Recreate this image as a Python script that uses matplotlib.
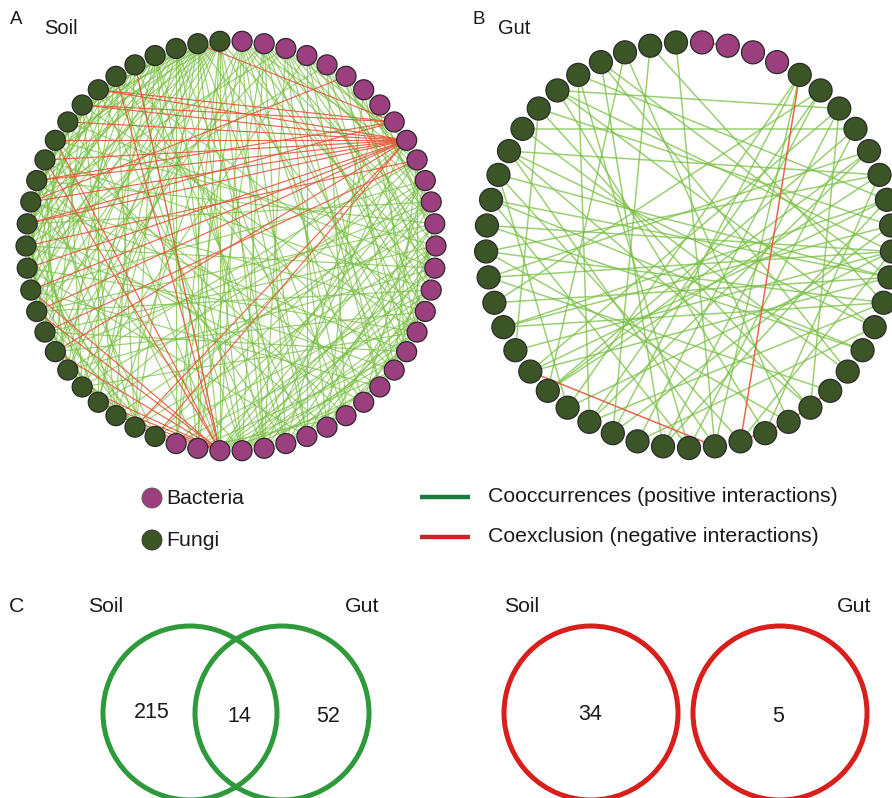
import numpy as np
import matplotlib
matplotlib.use("Agg")
import matplotlib.pyplot as plt
from matplotlib.patches import Circle
from matplotlib.collections import LineCollection

plt.rcParams['font.family'] = ['Liberation Sans', 'DejaVu Sans']

# ---------------- network data ----------------
# Soil network: nodes 0..31 bacteria, 32..57 fungi (clockwise from the top)
soil_n_bacteria = 32
soil_n_fungi = 26
# positive (co-occurrence) edges, fungi - fungi
soil_pos_ff = {
    57: [52, 50, 48, 46, 44, 42, 40, 38, 36],
    56: [51, 49, 47, 45, 43, 41, 39, 37, 35, 33],
    55: [50, 47, 44, 41, 38, 35],
    54: [49, 46, 43, 40, 36, 33],
    53: [48, 45, 42, 39, 34],
    52: [47, 44, 41, 37, 33],
    51: [46, 43, 40, 35],
    50: [45, 42, 38, 34],
    49: [44, 41, 36],
    48: [43, 39, 33],
    47: [42, 38, 34],
    46: [41, 37, 32],
    45: [40, 36],
    44: [39, 35],
    43: [38, 33],
    42: [37, 32],
    41: [36, 33],
    40: [35, 32],
    39: [34],
    38: [33, 35],
    37: [32, 34],
    36: [32],
    35: [32],
}
# positive edges, bacteria - bacteria and bacteria - fungi
soil_pos_b = {
    0: [10, 13, 16, 19, 22, 25, 27, 29, 31, 34, 37],
    1: [11, 14, 17, 20, 23, 26, 28, 30, 38, 42],
    2: [9, 12, 15, 18, 21, 24, 27, 40, 45],
    3: [10, 13, 17, 21, 25, 36],
    4: [11, 15, 19, 23, 43],
    5: [12, 16, 20],
    6: [13, 18, 24],
    7: [14, 19, 26],
    29: [10, 12, 14, 16, 18, 20, 22],
    28: [11, 13, 15, 17, 19, 21],
    27: [9, 14, 18],
    30: [11, 15, 19, 23],
    31: [12, 17],
    26: [13, 17, 20],
    25: [12, 16],
    24: [14, 18],
    22: [11, 15],
    20: [10, 13],
    18: [10],
}
# positive edges, fungi - bacteria
soil_pos_fb = {
    57: [27, 29, 30, 31, 25, 20, 15],
    56: [26, 28, 30, 23, 18],
    55: [29, 31, 27, 24],
    54: [28, 30, 26],
    53: [29, 25],
    52: [22, 28, 17],
    51: [27, 20],
    50: [18, 29],
    49: [15, 26],
    48: [14, 23, 30],
    47: [16, 21],
    46: [13, 24],
    45: [17, 19, 28],
    44: [12, 22],
    43: [15, 20],
    42: [18, 25],
    41: [11, 21],
    40: [13, 16],
    39: [14, 19],
    38: [12, 17],
    37: [10, 15],
    36: [11, 18],
    35: [9, 13],
    34: [12],
    33: [10, 14],
    32: [11, 16],
}
# negative (co-exclusion) edges
soil_neg = {
    9: [44, 45, 46, 47, 48, 49, 50, 51, 42, 41, 40, 38, 33, 32],
    8: [50, 51, 56, 44, 46],
    29: [53, 48, 47, 41, 40, 38, 36, 35, 34, 33, 52],
    5: [45],
    10: [43, 39],
}

# Gut network: nodes 0..3 bacteria, 4..48 fungi (clockwise from the top)
gut_n_bacteria = 4
gut_n_fungi = 45
gut_pos = [
    (41, 7), (38, 13), (37, 12), (36, 14), (48, 23), (47, 27), (46, 20), (46, 30),
    (45, 17), (45, 25), (44, 10), (44, 28), (43, 6), (43, 15), (42, 11), (42, 32),
    (40, 9), (40, 19), (39, 13), (39, 29), (38, 24), (37, 16), (35, 12), (35, 8),
    (34, 5), (34, 13), (33, 14), (33, 10), (32, 12), (31, 13), (31, 6), (30, 9),
    (30, 7), (29, 12), (29, 4), (28, 14), (28, 8), (27, 11), (27, 4), (26, 5),
    (26, 15), (25, 10), (25, 6), (24, 7), (24, 44), (23, 40), (23, 4), (22, 39),
    (22, 12), (21, 43), (21, 9), (20, 36), (19, 42), (19, 6), (18, 35), (17, 41),
    (16, 38), (15, 40), (14, 47), (13, 45), (12, 43), (11, 33), (10, 31), (9, 36),
    (8, 30), (5, 28),
]
gut_neg = [(0, 1), (4, 22), (31, 23), (22, 20), (20, 18)]

# Venn counts (shared and unique interactions)
pos_soil_only, pos_shared, pos_gut_only = 215, 14, 52
neg_soil_only, neg_gut_only = 34, 5

# ---------------- styling ----------------
C_BACT = '#9b3f7e'
C_FUNGI = '#3c5526'
C_POS = '#78c043'
C_NEG = '#e8563a'
C_LEG_POS = '#1c7a3e'
C_LEG_NEG = '#c8262b'
C_VENN_POS = '#2f9a3b'
C_VENN_NEG = '#d91f1c'

W, H = 892, 798
fig = plt.figure(figsize=(W / 100, H / 100), dpi=100)
ax = fig.add_axes([0, 0, 1, 1])
ax.set_xlim(0, W)
ax.set_ylim(H, 0)
ax.set_aspect('equal')
ax.axis('off')


def ring_positions(n, cx, cy, r, start_deg):
    ang = np.deg2rad(start_deg - np.arange(n) * 360.0 / n)
    return np.column_stack([cx + r * np.cos(ang), cy - r * np.sin(ang)])


def adj_to_pairs(*adjs):
    return [(a, b) for adj in adjs for a, bs in adj.items() for b in bs]


def draw_network(pos, n_bact, pos_edges, neg_edges, node_r, lw):
    segs = [[pos[a], pos[b]] for a, b in pos_edges]
    ax.add_collection(LineCollection(segs, colors=C_POS, linewidths=lw,
                                     alpha=0.75, zorder=1))
    segs = [[pos[a], pos[b]] for a, b in neg_edges]
    ax.add_collection(LineCollection(segs, colors=C_NEG, linewidths=lw,
                                     alpha=0.9, zorder=2))
    for i, (x, y) in enumerate(pos):
        col = C_BACT if i < n_bact else C_FUNGI
        ax.add_patch(Circle((x, y), node_r, facecolor=col, edgecolor='#2b2b2b',
                            linewidth=0.9, zorder=3))


# Panel A: soil
n_soil = soil_n_bacteria + soil_n_fungi
soil_xy = ring_positions(n_soil, 231, 246, 205, 90 - 180.0 / n_soil)
draw_network(soil_xy, soil_n_bacteria,
             adj_to_pairs(soil_pos_ff, soil_pos_b, soil_pos_fb),
             adj_to_pairs(soil_neg), 10, 0.85)

# Panel B: gut
n_gut = gut_n_bacteria + gut_n_fungi
gut_xy = ring_positions(n_gut, 689, 245, 203, 90 - 180.0 / n_gut)
draw_network(gut_xy, gut_n_bacteria, gut_pos, gut_neg, 11.5, 1.1)

txt = dict(color='#1a1a1a', va='center')
FS = 15.3
ax.text(16, 19, 'A', fontsize=13.5, ha='center', **txt)
ax.text(44, 28, 'Soil', fontsize=14.5, ha='left', **txt)
ax.text(479, 19, 'B', fontsize=13.5, ha='center', **txt)
ax.text(498, 28, 'Gut', fontsize=14.5, ha='left', **txt)

# Legend
ax.add_patch(Circle((152, 498), 10, facecolor=C_BACT, edgecolor='#555555', linewidth=0.6))
ax.add_patch(Circle((152, 540), 10, facecolor=C_FUNGI, edgecolor='#333333', linewidth=0.6))
ax.text(166, 498, 'Bacteria', fontsize=FS, ha='left', **txt)
ax.text(166, 540, 'Fungi', fontsize=FS, ha='left', **txt)
ax.plot([420, 470], [497, 497], color=C_LEG_POS, lw=3.2, solid_capstyle='butt')
ax.plot([420, 470], [537, 537], color=C_LEG_NEG, lw=3.2, solid_capstyle='butt')
ax.text(488, 496, 'Cooccurrences (positive interactions)', fontsize=FS, ha='left', **txt)
ax.text(488, 536, 'Coexclusion (negative interactions)', fontsize=FS, ha='left', **txt)

# Panel C: Venn diagrams
ax.text(17, 607, 'C', fontsize=FS, ha='center', **txt)
ax.text(106, 607, 'Soil', fontsize=FS, ha='center', **txt)
ax.text(362, 607, 'Gut', fontsize=FS, ha='center', **txt)
ax.text(522, 607, 'Soil', fontsize=FS, ha='center', **txt)
ax.text(854, 607, 'Gut', fontsize=FS, ha='center', **txt)

for cx, col in [(190, C_VENN_POS), (282, C_VENN_POS), (591, C_VENN_NEG), (780, C_VENN_NEG)]:
    ax.add_patch(Circle((cx, 713), 87, facecolor='none', edgecolor=col, linewidth=3.6))

ax.text(152, 712, str(pos_soil_only), fontsize=15.5, ha='center', **txt)
ax.text(239, 716, str(pos_shared), fontsize=15.5, ha='center', **txt)
ax.text(328, 716, str(pos_gut_only), fontsize=15.5, ha='center', **txt)
ax.text(590, 714, str(neg_soil_only), fontsize=15.5, ha='center', **txt)
ax.text(778, 716, str(neg_gut_only), fontsize=15.5, ha='center', **txt)

fig.savefig('out.png', dpi=100)
